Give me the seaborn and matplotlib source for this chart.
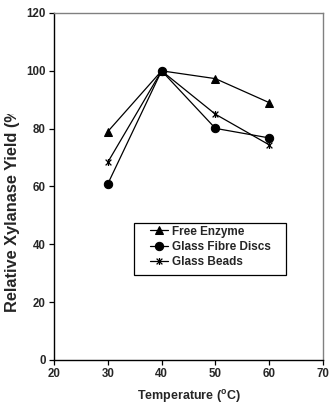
import matplotlib
matplotlib.use("Agg")
import matplotlib.pyplot as plt
import seaborn as sns
import pandas as pd
from matplotlib.path import Path
from matplotlib.patches import Rectangle
from matplotlib.transforms import Bbox, TransformedBbox

temperature = [30, 40, 50, 60]
free_enzyme = [79.0, 100.0, 97.3, 89.0]
glass_fibre = [60.9, 100.0, 80.1, 76.8]
glass_beads = [68.4, 100.0, 85.0, 74.4]
series_names = ["Free Enzyme", "Glass Fibre Discs", "Glass Beads"]
x_ticks = [20, 30, 40, 50, 60, 70]
y_ticks = [0, 20, 40, 60, 80, 100, 120]

sns.set_style("ticks")
plt.rcParams['font.family'] = ['Liberation Sans', 'DejaVu Sans']
plt.rcParams['font.weight'] = 'bold'
plt.rcParams['mathtext.fontset'] = 'custom'
plt.rcParams['mathtext.rm'] = 'Liberation Sans:bold'
plt.rcParams['mathtext.bf'] = 'Liberation Sans:bold'

fig = plt.figure(figsize=(3.32, 4.05), dpi=100)
ax = fig.add_axes([54/332, 1-360/405, 269/332, 347/405])

star = Path([(-1, -1), (1, 1), (-1, 1), (1, -1), (0, -1.2), (0, 1.2)],
            [Path.MOVETO, Path.LINETO, Path.MOVETO, Path.LINETO, Path.MOVETO, Path.LINETO])

df = pd.DataFrame({"Temperature": temperature * 3,
                   "Yield": free_enzyme + glass_fibre + glass_beads,
                   "Series": [s for s in series_names for _ in temperature]})

styles = {"Free Enzyme": dict(marker="^", markersize=6.0, markerfacecolor="black"),
          "Glass Fibre Discs": dict(marker="o", markersize=6.0, markerfacecolor="black"),
          "Glass Beads": dict(marker=star, markersize=5.0, markerfacecolor="none", markeredgewidth=0.9)}

for name in series_names:
    sub = df[df["Series"] == name]
    sns.lineplot(data=sub, x="Temperature", y="Yield", ax=ax, color="black",
                 linewidth=0.9, markeredgecolor="black", label=name, **styles[name])

ax.set_xlim(20, 70)
ax.set_ylim(0, 120)
ax.set_xticks(x_ticks)
ax.set_yticks(y_ticks)
ax.tick_params(direction="out", length=3.3, width=0.9, labelsize=8.3, pad=2.5, color="black")
for lab in ax.get_xticklabels() + ax.get_yticklabels():
    lab.set_fontweight("bold")
for s in ["left", "bottom"]:
    ax.spines[s].set_color("black")
    ax.spines[s].set_linewidth(1.0)
for s in ["top", "right"]:
    ax.spines[s].set_visible(True)
    ax.spines[s].set_color("#808080")
    ax.spines[s].set_linewidth(1.0)

ax.set_xlabel("Temperature ($^{\\mathregular{o}}$C)", fontsize=9.0, fontweight="bold", labelpad=5.5)
ax.set_ylabel("")

t = fig.text(13/332, 1-312/405, "Relative Xylanase Yield (%)", rotation=90,
             rotation_mode="anchor", ha="left", va="center", fontsize=11.8, fontweight="bold")
t.set_clip_box(TransformedBbox(Bbox([[0, 0], [1, 1-114/405]]), fig.transFigure))
t.set_clip_on(True)

box_l, box_r = (134-54)/269, (286-54)/269
box_b, box_t = (360-275)/347, (360-223)/347
ax.add_patch(Rectangle((box_l, box_b), box_r-box_l, box_t-box_b, transform=ax.transAxes,
                       fill=True, facecolor="white", edgecolor="black", linewidth=0.9,
                       clip_on=False, zorder=4))
leg = ax.legend(loc="center", bbox_to_anchor=((box_l+box_r)/2 + 0.002, (box_b+box_t)/2 + 0.006),
                borderaxespad=0, frameon=False, fontsize=8.5,
                handlelength=1.55, handletextpad=0.35, borderpad=0, labelspacing=0.28)
leg.set_zorder(5)
for txt in leg.get_texts():
    txt.set_fontweight("bold")

fig.savefig("out.png", dpi=100)
